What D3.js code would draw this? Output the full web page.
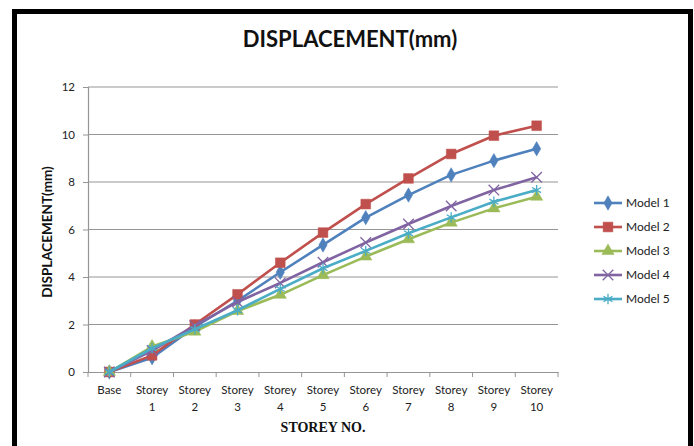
<!DOCTYPE html>
<html><head><meta charset="utf-8">
<script src="https://cdnjs.cloudflare.com/ajax/libs/d3/7.8.5/d3.min.js"></script>
<style>body{margin:0;background:#fff;}svg{display:block;}</style>
</head><body>
<svg id="c" width="694" height="446"></svg>
<script>
const categories = ["Base","Storey 1","Storey 2","Storey 3","Storey 4","Storey 5","Storey 6","Storey 7","Storey 8","Storey 9","Storey 10"];
const model1 = [0, 0.6, 1.9, 3.0, 4.2, 5.35, 6.5, 7.45, 8.3, 8.9, 9.4];
const model2 = [0, 0.7, 2.0, 3.27, 4.6, 5.87, 7.07, 8.15, 9.18, 9.95, 10.37];
const model3 = [0, 1.07, 1.7, 2.57, 3.25, 4.08, 4.86, 5.59, 6.29, 6.89, 7.38];
const model4 = [0, 0.9, 1.95, 2.95, 3.75, 4.62, 5.45, 6.23, 6.99, 7.66, 8.2];
const model5 = [0, 1.0, 1.8, 2.6, 3.5, 4.37, 5.1, 5.84, 6.51, 7.17, 7.66];
const seriesNames = ["Model 1","Model 2","Model 3","Model 4","Model 5"];
const yTicks = [0,2,4,6,8,10,12];

const series = [
  {name: seriesNames[0], values: model1, color: "#4F81BD", sym: "diamond"},
  {name: seriesNames[1], values: model2, color: "#C0504D", sym: "square"},
  {name: seriesNames[2], values: model3, color: "#9BBB59", sym: "triangle"},
  {name: seriesNames[3], values: model4, color: "#8064A2", sym: "x"},
  {name: seriesNames[4], values: model5, color: "#4BACC6", sym: "star"}
];

const svg = d3.select("#c");
svg.append("rect").attr("x",0).attr("y",0).attr("width",694).attr("height",446).attr("fill","#fff");
svg.append("path").attr("d","M14.5,446 V11.5 H690.5 V446").attr("fill","none").attr("stroke","#000").attr("stroke-width",5);

const L = 88, R = 558, T = 87, B = 372;
const x = d3.scaleBand().domain(categories).range([L, R]);
const y = d3.scaleLinear().domain([0, 12]).range([B, T]);

svg.append("g").selectAll("line").data(yTicks.filter(d => d > 0)).join("line")
  .attr("x1", L).attr("x2", R).attr("y1", d => y(d)).attr("y2", d => y(d))
  .attr("stroke", "#959595").attr("stroke-width", 1.2);

const ya = svg.append("g").attr("transform", `translate(${L},0)`)
  .call(d3.axisLeft(y).tickValues(yTicks).tickSize(5).tickPadding(8));
ya.select(".domain").attr("stroke", "#959595").attr("stroke-width", 1.2);
ya.selectAll(".tick line").attr("stroke", "#959595");
ya.selectAll("text").attr("font-family", "Lato, 'Open Sans', sans-serif").attr("font-size", 11.5).attr("fill", "#222");

const xa = svg.append("g").attr("transform", `translate(0,${B})`)
  .call(d3.axisBottom(x).tickSize(0).tickFormat(""));
xa.select(".domain").attr("stroke", "#959595").attr("stroke-width", 1.2);
const bounds = categories.map(c => x(c)).concat([R]);
svg.append("g").selectAll("line").data(bounds).join("line")
  .attr("x1", d => d).attr("x2", d => d).attr("y1", B).attr("y2", B + 5)
  .attr("stroke", "#959595");
const lab = svg.append("g").selectAll("text").data(categories).join("text")
  .attr("x", d => x(d) + x.bandwidth() / 2).attr("y", B + 22)
  .attr("text-anchor", "middle").attr("font-family", "Lato, 'Open Sans', sans-serif")
  .attr("font-size", 11.5).attr("fill", "#222");
lab.each(function(d) {
  const parts = d.split(" ");
  const t = d3.select(this);
  parts.forEach((p, i) => t.append("tspan").attr("x", x(d) + x.bandwidth() / 2).attr("dy", i ? 17 : 0).text(p));
});

const line = d3.line().x((d, i) => x(categories[i]) + x.bandwidth() / 2).y(d => y(d));
const symMap = {diamond: d3.symbolDiamond, square: d3.symbolSquare, triangle: d3.symbolTriangle, x: d3.symbolX, star: d3.symbolAsterisk};
const symSize = {diamond: 60, square: 95, triangle: 65, x: 75, star: 75};

function drawMarker(g, s, cx, cy) {
  const isStroke = s.sym === "x" || s.sym === "star";
  g.append("path").attr("transform", `translate(${cx},${cy})`)
    .attr("d", d3.symbol().type(symMap[s.sym]).size(symSize[s.sym])())
    .attr("fill", isStroke ? "none" : s.color)
    .attr("stroke", s.color).attr("stroke-width", isStroke ? 1.3 : 0.5);
}

series.forEach(s => {
  const g = svg.append("g");
  g.append("path").datum(s.values).attr("d", line).attr("fill", "none")
    .attr("stroke", s.color).attr("stroke-width", 2.6).attr("stroke-linejoin", "round");
  s.values.forEach((v, i) => drawMarker(g, s, x(categories[i]) + x.bandwidth() / 2, y(v)));
});

const lg = svg.append("g");
series.forEach((s, i) => {
  const ly = 203 + i * 24;
  lg.append("line").attr("x1", 594).attr("x2", 622).attr("y1", ly).attr("y2", ly)
    .attr("stroke", s.color).attr("stroke-width", 2.6);
  drawMarker(lg, s, 608, ly);
  lg.append("text").attr("x", 626).attr("y", ly + 4).attr("font-family", "Lato, 'Open Sans', sans-serif")
    .attr("font-size", 12).attr("fill", "#222").text(s.name);
});

svg.append("text").attr("x", 350).attr("y", 47).attr("text-anchor", "middle")
  .attr("font-family", "Lato, 'Open Sans', sans-serif").attr("font-weight", "bold")
  .attr("font-size", 22).attr("fill", "#111").text("DISPLACEMENT(mm)");

svg.append("text").attr("transform", "translate(52,232) rotate(-90)").attr("text-anchor", "middle")
  .attr("font-family", "Lato, 'Open Sans', sans-serif").attr("font-weight", "bold")
  .attr("font-size", 13.5).attr("fill", "#111").text("DISPLACEMENT(mm)");

svg.append("text").attr("x", 323).attr("y", 432).attr("text-anchor", "middle")
  .attr("font-family", "'Liberation Serif', 'Times New Roman', serif").attr("font-weight", "bold")
  .attr("font-size", 14).attr("fill", "#111").text("STOREY NO.");
</script>
</body></html>
